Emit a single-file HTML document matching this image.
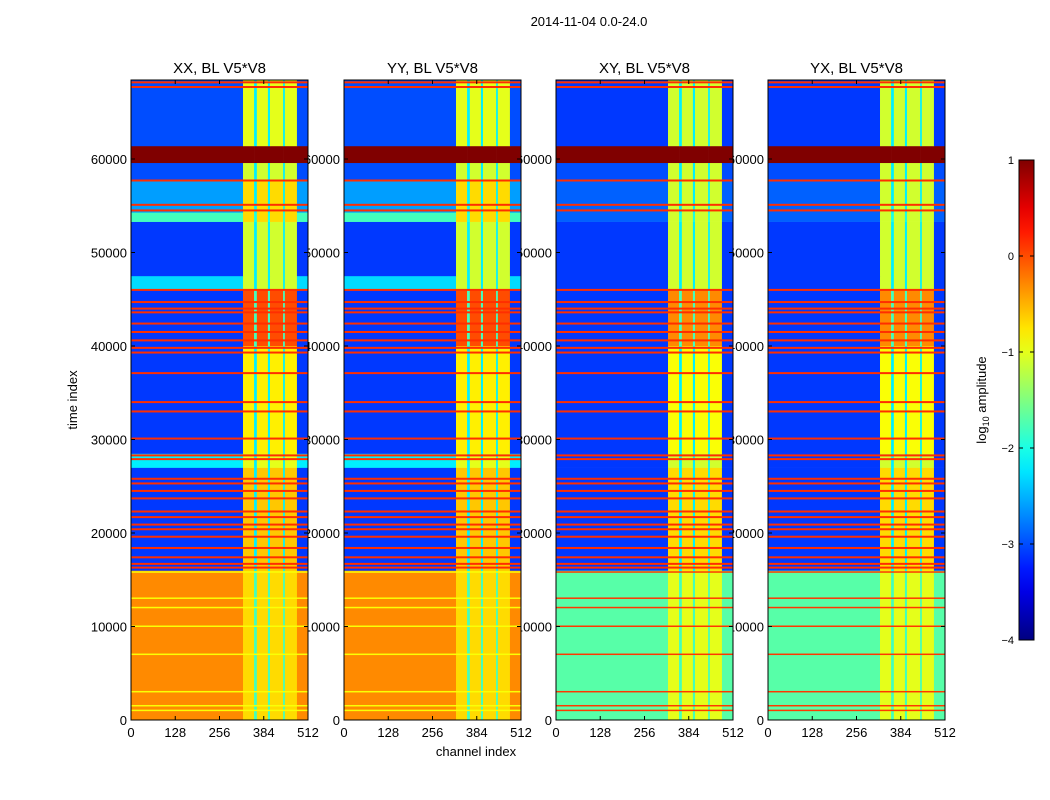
<!DOCTYPE html>
<html><head><meta charset="utf-8"><style>
body{margin:0;background:#fff;}
svg{display:block;font-family:"Liberation Sans",sans-serif;}
</style></head><body>
<svg id="fig" width="1050" height="800" viewBox="0 0 1050 800"></svg>
<script>
// ---- data ----
const panelTitles = ["XX, BL V5*V8","YY, BL V5*V8","XY, BL V5*V8","YX, BL V5*V8"];
const timeEdges = [0,16000,27000,28500,40000,46000,47500,53300,54300,57700,59600,61400,68500];
const chanEdges = [0,324,356,364,396,402,440,445,480,512];
// column type: 0 = background, 1 = bright band, 2 = dim gap
const chanType = [0,1,2,1,2,1,2,1,0];
// per-panel log10 amplitude for background per time segment
const bgXX = [-0.3,-3.1,-2.2,-3.1,-3.1,-2.3,-3.1,-1.8,-2.6,-3.0,1.0,-3.0];
const bgYY = [-0.3,-3.1,-2.2,-3.1,-3.1,-2.3,-3.1,-1.8,-2.6,-3.0,1.0,-3.0];
const bgXY = [-1.7,-3.1,-3.1,-3.1,-3.1,-3.1,-3.1,-2.9,-2.9,-3.0,1.0,-3.1];
const bgYX = [-1.7,-3.1,-3.1,-3.1,-3.1,-3.1,-3.1,-2.9,-2.9,-3.0,1.0,-3.1];
// bright band values per time segment
const bandXX = [-0.7,-0.6,-1.0,-0.8,0.0,-1.1,-1.1,-0.7,-0.7,-1.1,1.0,-1.0];
const bandYY = [-0.7,-0.6,-1.0,-0.8,0.0,-1.1,-1.1,-0.7,-0.7,-1.1,1.0,-1.0];
const bandXY = [-1.0,-0.7,-1.1,-0.9,-0.3,-1.1,-1.1,-1.1,-1.1,-1.1,1.0,-1.1];
const bandYX = [-1.0,-0.7,-1.1,-0.9,-0.3,-1.1,-1.1,-1.1,-1.1,-1.1,1.0,-1.1];
const dimValue = [-1.8,-2.2,-2.2,-2.2,-1.8,-2.2,-2.2,-2.0,-2.2,-2.2,1.0,-2.2];
// horizontal RFI lines (time index)
const rfiLines = [16300,16700,17400,18400,19600,20400,20900,21700,22300,23700,24500,25300,25800,27900,28300,30100,33000,34000,37100,39300,39800,40600,41500,42400,43600,44000,44700,46000,54500,55100,57700,67700,68200];
const lowLines = [1000,1500,3000,7000,10000,12000,13000,15800];
const xTicks = [0,128,256,384,512];
const yTicks = [0,10000,20000,30000,40000,50000,60000];
const cbTicks = [1,0,-1,-2,-3,-4];
const bgs=[bgXX,bgYY,bgXY,bgYX], bands=[bandXX,bandYY,bandXY,bandYX];

// ---- layout ----
const panelX=[131,344,556,768], PW=177, PT=80, PB=720;
const ys=t=>720-t*(561/60000);
const NS="http://www.w3.org/2000/svg";
const svg=document.getElementById('fig');
function el(tag,attrs,parent){const e=document.createElementNS(NS,tag);for(const k in attrs)e.setAttribute(k,attrs[k]);(parent||svg).appendChild(e);return e;}
function jet(v){let t=Math.max(0,Math.min(1,(v+4)/5));
 const r=Math.max(0,Math.min(1,1.5-Math.abs(4*t-3))),g=Math.max(0,Math.min(1,1.5-Math.abs(4*t-2))),b=Math.max(0,Math.min(1,1.5-Math.abs(4*t-1)));
 return `rgb(${Math.round(r*255)},${Math.round(g*255)},${Math.round(b*255)})`;}

let t=el('text',{x:589,y:26,'text-anchor':'middle','font-size':13});
t.textContent="2014-11-04 0.0-24.0";



panelX.forEach((x0,p)=>{
 yTicks.forEach(v=>{const l=el('text',{x:x0-4,y:ys(v)+5,'text-anchor':'end','font-size':13});l.textContent=v;
  
  });
});

panelX.forEach((x0,p)=>{
 const xs=c=>x0+c*PW/512;
 const g=el('g',{});
 
 
 el('rect',{x:x0,y:PT,width:PW,height:PB-PT,fill:'#fff'},g);
 for(let i=0;i<timeEdges.length-1;i++){
  for(let j=0;j<chanEdges.length-1;j++){
   const typ=chanType[j];
   const v= typ===0?bgs[p][i]:typ===1?bands[p][i]:dimValue[i];
   const c=el('rect',{x:xs(chanEdges[j]),y:ys(timeEdges[i+1]),width:xs(chanEdges[j+1])-xs(chanEdges[j])+0.3,height:ys(timeEdges[i])-ys(timeEdges[i+1])+0.3,fill:jet(v)},g);
   
   
  }
 }
 rfiLines.forEach(tv=>{const r=el('rect',{x:x0,y:ys(tv)-1,width:PW,height:2,fill:jet(0.15)},g);
  
  });
 lowLines.forEach(tv=>{const r=el('rect',{x:x0,y:ys(tv)-1,width:PW,height:1.5,fill:jet(p<2?-0.9:0.1)},g);
  
  });
 el('rect',{x:x0,y:PT,width:PW,height:PB-PT,fill:'none',stroke:'#000','stroke-width':1},g);
 xTicks.forEach(v=>{
  el('line',{x1:xs(v),x2:xs(v),y1:PB,y2:PB-4,stroke:'#000'},g);
  el('line',{x1:xs(v),x2:xs(v),y1:PT,y2:PT+4,stroke:'#000'},g);
  const l=el('text',{x:xs(v),y:737,'text-anchor':'middle','font-size':13},g);l.textContent=v;
  
  
 });
 yTicks.forEach(v=>{
  el('line',{x1:x0,x2:x0+4,y1:ys(v),y2:ys(v),stroke:'#000'},g);
  el('line',{x1:x0+PW,x2:x0+PW-4,y1:ys(v),y2:ys(v),stroke:'#000'},g);
 });
 const tt=el('text',{x:x0+PW/2,y:73,'text-anchor':'middle','font-size':15},g);tt.textContent=panelTitles[p];
 
 
});

let xl=el('text',{x:476,y:756,'text-anchor':'middle','font-size':13});xl.textContent="channel index";


let yl=el('text',{x:77,y:400,'text-anchor':'middle','font-size':13,transform:'rotate(-90 77 400)'});yl.textContent="time index";



const defs=el('defs',{});
const lg=el('linearGradient',{id:'jetg',x1:0,y1:1,x2:0,y2:0},defs);
for(let i=0;i<=20;i++){el('stop',{offset:i/20,'stop-color':jet(-4+5*i/20)},lg);}
const cb=el('rect',{x:1019,y:160,width:15,height:480,fill:'url(#jetg)',stroke:'#000'});


const cy=v=>640-(v+4)*96;
cbTicks.forEach(v=>{
 el('line',{x1:1019,x2:1023,y1:cy(v),y2:cy(v),stroke:'#000'});
 el('line',{x1:1034,x2:1030,y1:cy(v),y2:cy(v),stroke:'#000'});
 const l=el('text',{x:1014,y:cy(v)+4,'text-anchor':'end','font-size':11});l.textContent=v<0?'\u2212'+(-v):v;
 
 
});
let cl=el('text',{x:986,y:400,'text-anchor':'middle','font-size':13,transform:'rotate(-90 986 400)'});
cl.innerHTML='log<tspan font-size="9" dy="3">10</tspan><tspan dy="-3"> amplitude</tspan>';


</script>
</body></html>
